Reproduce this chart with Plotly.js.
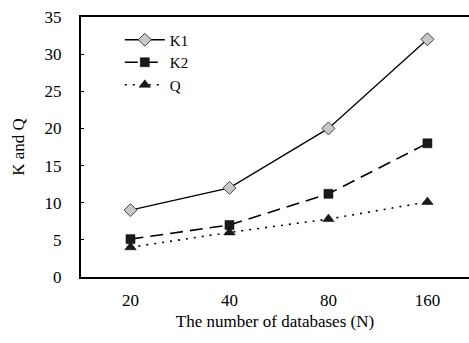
<!DOCTYPE html>
<html>
<head>
<meta charset="utf-8">
<script src="https://cdn.plot.ly/plotly-3.0.1.min.js"></script>
<style>html,body{margin:0;padding:0;background:#fff;}#chart{width:469px;height:343px;}</style>
</head>
<body>
<div id="chart"></div>
<script>
var categories = ["20", "40", "80", "160"];
var k1 = [9, 12, 20, 32];
var k2 = [5.1, 7, 11.2, 18];
var q = [4, 6, 7.8, 10.1];
var yTicks = [0, 5, 10, 15, 20, 25, 30, 35];

var fam = "Liberation Serif, Times New Roman, serif";

var traces = [
  {x: categories, y: k1, name: "K1", mode: "lines+markers",
   line: {color: "#000", width: 1.3, dash: "solid"},
   marker: {symbol: "diamond", size: 10, color: "#c8c8c8", line: {color: "#444", width: 1}}},
  {x: categories, y: k2, name: "K2", mode: "lines+markers",
   line: {color: "#000", width: 1.6, dash: "13px,7px"},
   marker: {symbol: "square", size: 9, color: "#1a1a1a", line: {color: "#000", width: 0.5}}},
  {x: categories, y: q, name: "Q", mode: "lines+markers",
   line: {color: "#000", width: 1.6, dash: "2px,6px"},
   marker: {symbol: "triangle-up", size: 10, color: "#1a1a1a", line: {color: "#000", width: 0.5}}}
];

var layout = {
  width: 469, height: 343,
  margin: {l: 81, r: 0, t: 17, b: 66},
  paper_bgcolor: "#fff", plot_bgcolor: "#fff",
  font: {family: fam, size: 17, color: "#000"},
  showlegend: true,
  legend: {x: 0.1, y: 0.975, xanchor: "left", yanchor: "top", bgcolor: "rgba(0,0,0,0)",
           font: {family: fam, size: 15, color: "#000"}, tracegroupgap: 0, itemwidth: 40},
  xaxis: {type: "category", range: [-0.5, 3.42], showline: true, linecolor: "#000", linewidth: 2,
          mirror: true, showgrid: false, zeroline: false, ticks: "", ticklabelstandoff: 7,
          tickfont: {family: fam, size: 17, color: "#000"},
          title: {text: "The number of databases (N)", font: {family: fam, size: 17, color: "#000"}, standoff: 6}},
  yaxis: {range: [0, 35], tickvals: yTicks, showline: true, linecolor: "#000", linewidth: 2,
          showgrid: false, zeroline: false, ticks: "inside", ticklen: 3, tickcolor: "#000", ticklabelstandoff: 14,
          tickfont: {family: fam, size: 17, color: "#000"},
          title: {text: "K and Q", font: {family: fam, size: 17, color: "#000"}, standoff: 16}}
};

Plotly.newPlot("chart", traces, layout, {displayModeBar: false, staticPlot: true});
</script>
</body>
</html>
